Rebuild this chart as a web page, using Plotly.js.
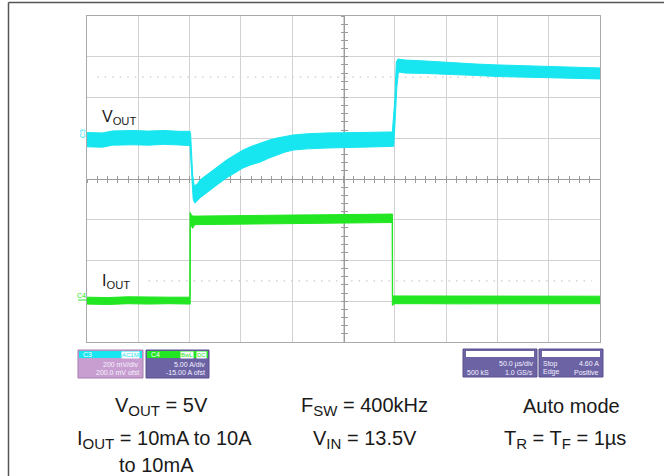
<!DOCTYPE html>
<html>
<head>
<meta charset="utf-8">
<script src="https://cdn.plot.ly/plotly-3.0.1.min.js"></script>
<style>html,body{margin:0;padding:0;background:#fff;}#chart{width:664px;height:476px;}</style>
</head>
<body>
<div id="chart"></div>
<script>
// ---- Data (time in µs, 50 µs/div) ----
const voutUpperT  = [0, 15, 25, 45, 60, 75, 90, 100.4, 101, 103, 104.5, 108, 110, 115, 120, 128, 136, 144, 152, 160, 169, 177, 185, 193, 201, 215, 234, 265, 297.6, 300, 301.5, 303, 310, 330, 350, 380, 400, 430, 460, 480, 500];
const voutUpperMv = [28, 26, 36, 38, 35, 38, 34, 34, 20, -180, -234, -222, -205, -186, -166, -136, -107, -82, -58, -40, -23, -10, 1, 10, 16, 22, 26, 28, 31, 188, 374, 389, 384, 379, 372, 364, 360, 355, 350, 347, 345];
const voutLowerT  = [0, 15, 25, 45, 60, 75, 90, 100.4, 101.5, 103.5, 105, 107, 110, 115, 120, 128, 136, 144, 152, 160, 169, 177, 185, 193, 201, 215, 234, 265, 297.6, 299, 300.5, 302, 303.5, 310, 330, 350, 380, 400, 430, 460, 480, 500];
const voutLowerMv = [-42, -44, -34, -32, -34, -30, -33, -36, -160, -300, -318, -310, -293, -275, -254, -224, -195, -170, -146, -130, -117, -98, -82, -68, -58, -52, -48, -43, -40, -40, 60, 250, 325, 320, 318, 315, 308, 303, 301, 296, 293, 291];

const ioutUpperT = [0, 20, 40, 60, 80, 100.2, 100.4, 101, 102, 104, 108, 130, 150, 175, 200, 225, 250, 275, 297.8, 297.9, 300, 330, 360, 400, 440, 470, 500];
const ioutUpperA = [0.5, 0.45, 0.55, 0.5, 0.5, 0.5, 10.9, 10.8, 10.5, 10.45, 10.45, 10.5, 10.52, 10.55, 10.58, 10.6, 10.64, 10.67, 10.7, 0.65, 0.65, 0.62, 0.65, 0.6, 0.62, 0.6, 0.62];
const ioutLowerT = [0, 20, 40, 60, 80, 100.6, 100.8, 101.5, 103, 104.5, 106, 110, 130, 150, 175, 200, 225, 250, 275, 297.4, 297.6, 298.5, 300, 330, 360, 400, 440, 470, 500];
const ioutLowerA = [-0.35, -0.4, -0.3, -0.35, -0.3, -0.35, 9.6, 9.3, 8.95, 9.3, 9.4, 9.42, 9.45, 9.48, 9.5, 9.54, 9.57, 9.6, 9.63, 9.66, -0.5, -0.45, -0.3, -0.3, -0.32, -0.28, -0.3, -0.32, -0.3];

const triggerTimeUs = 100.4;
const triggerLevelA = 4.6;

// Scope settings
const voutRangeMv = [-1000, 600];   // 200 mV/div, 200 mV offset
const ioutRangeA  = [-5, 35];       // 5 A/div, -15 A offset
const timeRangeUs = [0, 500];       // 50 µs/div

// ---- helpers ----
const L = 87, T = 16, W = 513, H = 326;
const PX = p => (p - L) / W;
const PY = p => (T + H - p) / H;
function band(ut, uv, lt, lv) {
  return { x: ut.concat(lt.slice().reverse()), y: uv.concat(lv.slice().reverse()) };
}
const vb = band(voutUpperT, voutUpperMv, voutLowerT, voutLowerMv);
const ib = band(ioutUpperT, ioutUpperA, ioutLowerT, ioutLowerA);

const CYAN = '#17E6F0', GREEN = '#22E622';
const FONT = 'Liberation Sans, Arial, sans-serif';

const traces = [
  {x: vb.x, y: vb.y, type: 'scatter', mode: 'lines', fill: 'toself', fillcolor: CYAN,
   line: {color: CYAN, width: 1}, xaxis: 'x', yaxis: 'y', hoverinfo: 'skip'},
  {x: ib.x, y: ib.y, type: 'scatter', mode: 'lines', fill: 'toself', fillcolor: GREEN,
   line: {color: GREEN, width: 1}, xaxis: 'x', yaxis: 'y2', hoverinfo: 'skip'},
  {x: [timeRangeUs[1] + 3.5], y: [triggerLevelA], type: 'scatter', mode: 'markers',
   marker: {symbol: 'triangle-left', size: 6, color: GREEN}, xaxis: 'x', yaxis: 'y2', cliponaxis: false},
  {x: [triggerTimeUs], y: [ioutRangeA[0] - 0.4], type: 'scatter', mode: 'markers',
   marker: {symbol: 'triangle-up', size: 6, color: GREEN}, xaxis: 'x', yaxis: 'y2', cliponaxis: false},
  {x: [], y: [], xaxis: 'x2', yaxis: 'y'},
  {x: [], y: [], xaxis: 'x3', yaxis: 'y'},
  {x: [], y: [], xaxis: 'x', yaxis: 'y3'},
  {x: [], y: [], xaxis: 'x', yaxis: 'y4'}
];

const centerX = {overlaying: 'x', anchor: 'free', position: 0.5, range: timeRangeUs, showline: true,
  linecolor: '#9c9c9c', linewidth: 1, tick0: 0, dtick: 10, ticklen: 3, tickcolor: '#9c9c9c',
  showticklabels: false, showgrid: false, zeroline: false, layer: 'below traces', fixedrange: true};
const centerY = {overlaying: 'y', anchor: 'free', position: 0.5, range: [-4, 4], showline: true,
  linecolor: '#9c9c9c', linewidth: 1, tick0: 0, dtick: 0.2, ticklen: 3, tickcolor: '#9c9c9c',
  showticklabels: false, showgrid: false, zeroline: false, layer: 'below traces', fixedrange: true};

const shapes = [
  // outer frame
  {type: 'line', xref: 'paper', yref: 'paper', x0: PX(8.5), x1: PX(664), y0: PY(2.5), y1: PY(2.5), line: {color: '#555', width: 1.5}},
  {type: 'line', xref: 'paper', yref: 'paper', x0: PX(8.5), x1: PX(8.5), y0: PY(2.5), y1: PY(476), line: {color: '#555', width: 1.5}},
  // dotted reference lines (±2.5 div)
  {type: 'line', xref: 'x', yref: 'y', x0: 10, x1: 492, y0: 300, y1: 300, layer: 'below', line: {color: '#bdbdbd', width: 1, dash: '1.5px,6px'}},
  {type: 'line', xref: 'x', yref: 'y', x0: 60, x1: 492, y0: -700, y1: -700, layer: 'below', line: {color: '#bdbdbd', width: 1, dash: '1.5px,6px'}},
  // info boxes
  {type: 'rect', xref: 'paper', yref: 'paper', x0: PX(78), x1: PX(143), y0: PY(378), y1: PY(350), fillcolor: '#C89ED0', line: {color: '#a47fae', width: 1}},
  {type: 'rect', xref: 'paper', yref: 'paper', x0: PX(79), x1: PX(142), y0: PY(358), y1: PY(351), fillcolor: CYAN, line: {width: 0}},
  {type: 'rect', xref: 'paper', yref: 'paper', x0: PX(146), x1: PX(209), y0: PY(378), y1: PY(350), fillcolor: '#6C63A5', line: {color: '#58508e', width: 1}},
  {type: 'rect', xref: 'paper', yref: 'paper', x0: PX(147), x1: PX(208), y0: PY(358), y1: PY(351), fillcolor: GREEN, line: {width: 0}},
  {type: 'rect', xref: 'paper', yref: 'paper', x0: PX(463), x1: PX(537), y0: PY(377), y1: PY(349), fillcolor: '#6C63A5', line: {color: '#58508e', width: 1}},
  {type: 'rect', xref: 'paper', yref: 'paper', x0: PX(466), x1: PX(534), y0: PY(357), y1: PY(351), fillcolor: '#ffffff', line: {width: 0}},
  {type: 'rect', xref: 'paper', yref: 'paper', x0: PX(539), x1: PX(603), y0: PY(377), y1: PY(349), fillcolor: '#6C63A5', line: {color: '#58508e', width: 1}},
  {type: 'rect', xref: 'paper', yref: 'paper', x0: PX(542), x1: PX(600), y0: PY(357), y1: PY(351), fillcolor: '#ffffff', line: {width: 0}},
  // C4 ground marker dash
  {type: 'line', xref: 'paper', yref: 'paper', x0: PX(78), x1: PX(87), y0: PY(300), y1: PY(300), line: {color: GREEN, width: 1}}
];

function ann(text, px, py, opts) {
  return Object.assign({text: text, xref: 'paper', yref: 'paper', x: PX(px), y: PY(py), showarrow: false,
    xanchor: 'center', yanchor: 'middle', font: {family: FONT, size: 20, color: '#1a1a1a'}}, opts || {});
}
const small = (c) => ({family: FONT, size: 7, color: c || '#f6f2ff'});
const S = t => '<sub><span style="font-size:15px">' + t + '</span></sub>';

const annotations = [
  ann('V<sub>OUT</sub>', 100, 117, {xanchor: 'left', font: {family: FONT, size: 16, color: '#1a1a1a'}}),
  ann('I<sub>OUT</sub>', 100, 281, {xanchor: 'left', font: {family: FONT, size: 16, color: '#1a1a1a'}}),
  ann('C3', 82, 134, {textangle: -90, font: small(CYAN)}),
  ann('C4', 81, 295, {font: small(GREEN)}),
  // box texts
  ann('C3', 81, 354.5, {xanchor: 'left', font: small('#ffffff')}),
  ann('AC1M', 140, 354.5, {xanchor: 'right', bgcolor: '#ffffff', borderpad: 0, font: {family: FONT, size: 6, color: CYAN}}),
  ann('200 mV/div', 141, 364, {xanchor: 'right', font: small()}),
  ann('200.0 mV ofst', 141, 372.5, {xanchor: 'right', font: small()}),
  ann('C4', 149, 354.5, {xanchor: 'left', font: small('#ffffff')}),
  ann('BwL', 194, 354.5, {xanchor: 'right', bgcolor: '#ffffff', borderpad: 0, font: {family: FONT, size: 6, color: GREEN}}),
  ann('DC', 207, 354.5, {xanchor: 'right', bgcolor: '#ffffff', borderpad: 0, font: {family: FONT, size: 6, color: GREEN}}),
  ann('5.00 A/div', 207, 364, {xanchor: 'right', font: small()}),
  ann('-15.00 A ofst', 207, 372.5, {xanchor: 'right', font: small()}),
  ann('50.0 µs/div', 535, 363.5, {xanchor: 'right', font: small()}),
  ann('500 kS', 465, 372, {xanchor: 'left', font: small()}),
  ann('1.0 GS/s', 535, 372, {xanchor: 'right', font: small()}),
  ann('Stop', 541, 363.5, {xanchor: 'left', font: small()}),
  ann('4.60 A', 601, 363.5, {xanchor: 'right', font: small()}),
  ann('Edge', 541, 372, {xanchor: 'left', font: small()}),
  ann('Positive', 601, 372, {xanchor: 'right', font: small()}),
  // condition text
  ann('V' + S('OUT') + ' = 5V', 161, 406),
  ann('F' + S('SW') + ' = 400kHz', 364, 406),
  ann('Auto mode', 571, 406),
  ann('I' + S('OUT') + ' = 10mA to 10A', 164, 439),
  ann('V' + S('IN') + ' = 13.5V', 365, 439),
  ann('T' + S('R') + ' = T' + S('F') + ' = 1µs', 565, 439),
  ann('to 10mA', 156, 465)
];

const layout = {
  width: 664, height: 476,
  margin: {l: L, r: 664 - L - W, t: T, b: 476 - T - H, pad: 0},
  paper_bgcolor: '#ffffff', plot_bgcolor: '#ffffff',
  showlegend: false,
  xaxis: {range: timeRangeUs, dtick: 50, tick0: 0, showgrid: true, gridcolor: '#d2d2d2', gridwidth: 1,
    showline: true, mirror: true, linecolor: '#aaaaaa', linewidth: 1, showticklabels: false, ticks: '',
    zeroline: false, fixedrange: true},
  yaxis: {range: voutRangeMv, dtick: 200, tick0: -1000, showgrid: true, gridcolor: '#d2d2d2', gridwidth: 1,
    showline: true, mirror: true, linecolor: '#aaaaaa', linewidth: 1, showticklabels: false, ticks: '',
    zeroline: false, fixedrange: true},
  yaxis2: {range: ioutRangeA, overlaying: 'y', showgrid: false, showticklabels: false, ticks: '',
    zeroline: false, showline: false, fixedrange: true},
  xaxis2: Object.assign({}, centerX, {ticks: 'outside'}),
  xaxis3: Object.assign({}, centerX, {ticks: 'inside'}),
  yaxis3: Object.assign({}, centerY, {ticks: 'outside'}),
  yaxis4: Object.assign({}, centerY, {ticks: 'inside'}),
  shapes: shapes,
  annotations: annotations
};

Plotly.newPlot('chart', traces, layout, {staticPlot: true, displayModeBar: false});
</script>
</body>
</html>
